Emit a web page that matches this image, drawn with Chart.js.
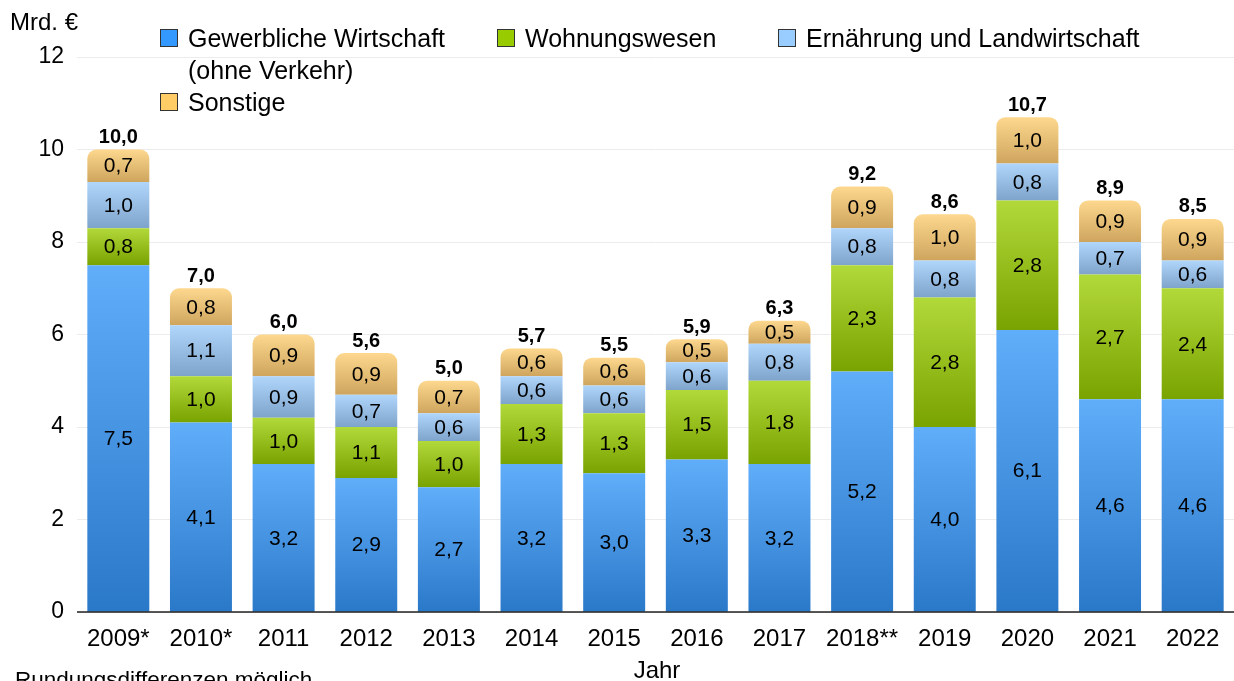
<!DOCTYPE html>
<html>
<head>
<meta charset="utf-8">
<script src="https://cdn.jsdelivr.net/npm/chart.js@4/dist/chart.umd.min.js"></script>
<style>
body { margin: 0; background: #fff; overflow: hidden; font-family: "Liberation Sans", Arial, sans-serif; color: #000; }
#wrap { position: relative; width: 1234px; height: 681px; }
#chart { position: absolute; left: 0; top: 0; }
.txt { position: absolute; white-space: nowrap; font-size: 24px; line-height: 24px; }
.lg { position: absolute; white-space: nowrap; font-size: 25px; line-height: 32px; padding-left: 28px; }
.lg i { position: absolute; left: 0; top: 7px; width: 16px; height: 16px; border: 1px solid #333; }
</style>
</head>
<body>
<div id="wrap">
  <canvas id="chart" width="1234" height="681"></canvas>
  <div class="txt" style="left:10px;top:10px">Mrd. €</div>
  <div class="lg" style="left:160px;top:22px"><i style="background:#3399ff"></i>Gewerbliche Wirtschaft<br>(ohne Verkehr)</div>
  <div class="lg" style="left:497px;top:22px"><i style="background:#99cc00"></i>Wohnungswesen</div>
  <div class="lg" style="left:778px;top:22px"><i style="background:#99ccff"></i>Ernährung und Landwirtschaft</div>
  <div class="lg" style="left:160px;top:86px"><i style="background:#ffcc66"></i>Sonstige</div>
  <div class="txt" style="left:0;width:1314px;text-align:center;top:658px">Jahr</div>
  <div class="txt" style="left:15px;top:668px;font-size:22.5px">Rundungsdifferenzen möglich</div>
</div>
<script>
// Werte in Mrd. €
const years = ['2009*', '2010*', '2011', '2012', '2013', '2014', '2015', '2016', '2017', '2018**', '2019', '2020', '2021', '2022'];
const gewerbe = [7.5, 4.1, 3.2, 2.9, 2.7, 3.2, 3.0, 3.3, 3.2, 5.2, 4.0, 6.1, 4.6, 4.6];
const wohnung = [0.8, 1.0, 1.0, 1.1, 1.0, 1.3, 1.3, 1.5, 1.8, 2.3, 2.8, 2.8, 2.7, 2.4];
const ernaehrung = [1.0, 1.1, 0.9, 0.7, 0.6, 0.6, 0.6, 0.6, 0.8, 0.8, 0.8, 0.8, 0.7, 0.6];
const sonstige = [0.7, 0.8, 0.9, 0.9, 0.7, 0.6, 0.6, 0.5, 0.5, 0.9, 1.0, 1.0, 0.9, 0.9];
const totals = [10.0, 7.0, 6.0, 5.6, 5.0, 5.7, 5.5, 5.9, 6.3, 9.2, 8.6, 10.7, 8.9, 8.5];

const series = [gewerbe, wohnung, ernaehrung, sonstige];
const fmt = v => v.toFixed(1).replace('.', ',');

// vertical gradient per segment
function grad(s, top, bottom) {
    return function (c) {
        const yScale = c.chart.scales && c.chart.scales.y;
        if (c.type !== 'data' || !yScale) return top;
        const i = c.dataIndex;
        let base = 0;
        for (let d = 0; d < s; d++) base += series[d][i];
        const y0 = yScale.getPixelForValue(base + series[s][i]);
        const y1 = yScale.getPixelForValue(base);
        if (!isFinite(y0) || !isFinite(y1) || y0 === y1) return top;
        const g = c.chart.ctx.createLinearGradient(0, y0, 0, y1);
        g.addColorStop(0, top);
        g.addColorStop(1, bottom);
        return g;
    };
}

const labelPlugin = {
    id: 'labels',
    afterDatasetsDraw(chart) {
        const ctx = chart.ctx;
        ctx.save();
        ctx.textAlign = 'center';
        ctx.textBaseline = 'middle';
        ctx.fillStyle = '#000';
        ctx.font = '21px "Liberation Sans", Arial, sans-serif';
        chart.data.datasets.forEach((ds, d) => {
            chart.getDatasetMeta(d).data.forEach((el, i) => {
                ctx.fillText(fmt(ds.data[i]), el.x, (el.y + el.base) / 2 + 1);
            });
        });
        ctx.font = 'bold 20px "Liberation Sans", Arial, sans-serif';
        chart.getDatasetMeta(3).data.forEach((el, i) => {
            ctx.fillText(fmt(totals[i]), el.x, el.y - 12);
        });
        // zero line
        const y0 = chart.scales.y.getPixelForValue(0);
        ctx.strokeStyle = 'rgba(0,0,0,0.65)';
        ctx.lineWidth = 2;
        ctx.beginPath();
        ctx.moveTo(chart.chartArea.left, y0);
        ctx.lineTo(chart.chartArea.right, y0);
        ctx.stroke();
        ctx.restore();
    }
};

const ctx = document.getElementById('chart').getContext('2d');
const chart = new Chart(ctx, {
    type: 'bar',
    data: {
        labels: years,
        datasets: [
            { label: 'Gewerbliche Wirtschaft (ohne Verkehr)', data: gewerbe, backgroundColor: grad(0, '#60aefa', '#2a78c8') },
            { label: 'Wohnungswesen', data: wohnung, backgroundColor: grad(1, '#b2d93a', '#79a300') },
            { label: 'Ernährung und Landwirtschaft', data: ernaehrung, backgroundColor: grad(2, '#b0d6fc', '#7ea4cb') },
            { label: 'Sonstige', data: sonstige, backgroundColor: grad(3, '#fdd88e', '#cfa55e'),
              borderRadius: { topLeft: 9, topRight: 9, bottomLeft: 0, bottomRight: 0 }, borderSkipped: false }
        ]
    },
    options: {
        responsive: false,
        animation: false,
        layout: { padding: { top: 57, right: 0, left: 0, bottom: 0 } },
        datasets: { bar: { categoryPercentage: 1, barPercentage: 0.75 } },
        plugins: {
            legend: { display: false },
            tooltip: { enabled: false }
        },
        scales: {
            x: {
                stacked: true,
                grid: { display: false },
                border: { display: false },
                ticks: { color: '#000', font: { size: 24, family: '"Liberation Sans", Arial, sans-serif' }, padding: 5, maxRotation: 0 },
                afterFit: s => { s.height = 69; }
            },
            y: {
                stacked: true,
                min: 0,
                max: 12,
                ticks: { stepSize: 2, color: '#000', padding: 13, font: { size: 23, family: '"Liberation Sans", Arial, sans-serif' } },
                grid: { color: '#ececec', drawTicks: false },
                border: { display: false },
                afterFit: s => { s.width = 77; }
            }
        }
    },
    plugins: [labelPlugin]
});
</script>
</body>
</html>
